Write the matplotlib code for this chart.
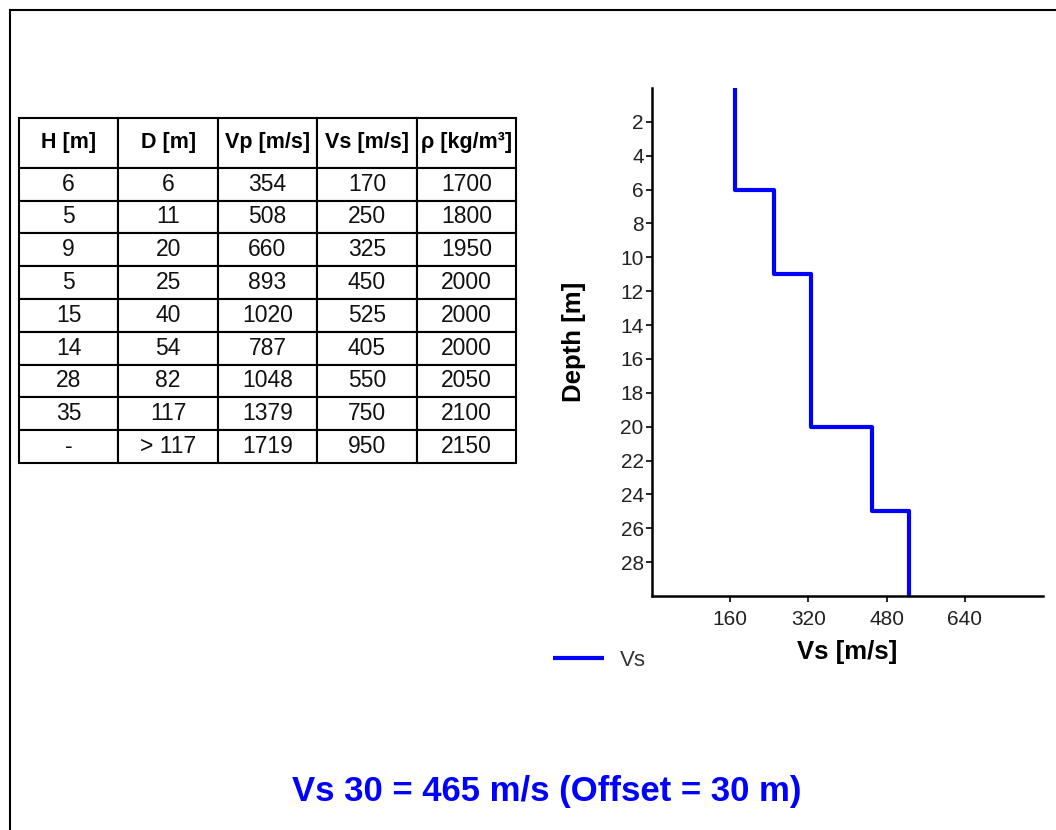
import matplotlib.pyplot as plt
import numpy as np
from matplotlib.lines import Line2D

plt.rcParams['font.family'] = ['Liberation Sans', 'DejaVu Sans']

# table data
col_labels = ['H [m]', 'D [m]', 'Vp [m/s]', 'Vs [m/s]', 'ρ [kg/m³]']
thickness = ['6', '5', '9', '5', '15', '14', '28', '35', '-']
depth = ['6', '11', '20', '25', '40', '54', '82', '117', '> 117']
vp = ['354', '508', '660', '893', '1020', '787', '1048', '1379', '1719']
vs = ['170', '250', '325', '450', '525', '405', '550', '750', '950']
rho = ['1700', '1800', '1950', '2000', '2000', '2000', '2050', '2100', '2150']

# Vs profile down to 30 m
depth_edges = [0, 6, 11, 20, 25, 30]
vs_layers = [170, 250, 325, 450, 525]

fig = plt.figure(figsize=(10.56, 8.3), dpi=100)
W, H = 1056, 830

# outer frame (left and top edges)
fig.add_artist(Line2D([10/W, 10/W], [0, 1 - 10/H], color='black', lw=1.5))
fig.add_artist(Line2D([10/W, 1], [1 - 10/H, 1 - 10/H], color='black', lw=1.5))

# table
tax = fig.add_axes([19/W, 1 - 463/H, 497/W, 345/H])
tax.axis('off')
cells = list(zip(thickness, depth, vp, vs, rho))
tbl = tax.table(cellText=cells, colLabels=col_labels, cellLoc='center',
                bbox=[0, 0, 1, 1])
tbl.auto_set_font_size(False)
for (r, c), cell in tbl.get_celld().items():
    cell.set_linewidth(1.5)
    cell.set_edgecolor('black')
    cell.set_height(50 if r == 0 else 33)
    if r == 0:
        cell.get_text().set_fontsize(15.5)
        cell.get_text().set_fontweight('bold')
    else:
        cell.get_text().set_fontsize(16.5)
        cell.get_text().set_color('#111111')

# Vs profile
ax = fig.add_axes([652/W, 1 - 596/H, 391/W, 508/H])
x = np.repeat(vs_layers, 2)
y = np.repeat(depth_edges, 2)[1:-1]
ax.plot(x, y, color='#0000ff', lw=3, label='Vs', solid_capstyle='butt')
ax.set_xlim(0, 800)
ax.set_ylim(30, 0)
ax.set_xticks([160, 320, 480, 640])
ax.set_yticks(np.arange(2, 30, 2))
for s in ['top', 'right']:
    ax.spines[s].set_visible(False)
for s in ['left', 'bottom']:
    ax.spines[s].set_linewidth(1.8)
ax.tick_params(axis='both', length=4, width=1.2, labelsize=15, colors='black',
               labelcolor='#222222')
ax.tick_params(axis='x', pad=6)
ax.tick_params(axis='y', pad=2)
ax.set_xlabel('Vs [m/s]', fontsize=18.5, fontweight='bold', labelpad=8)
ax.set_ylabel('Depth [m]', fontsize=18.5, fontweight='bold', labelpad=25)

fig.legend(loc='center left', bbox_to_anchor=(553/W, 1 - 660/H), frameon=False,
           fontsize=16, handlelength=2.3, handletextpad=0.7, borderpad=0,
           borderaxespad=0, labelcolor='#333333')

fig.text(547/W, 1 - 791/H, 'Vs 30 = 465 m/s (Offset = 30 m)', color='#0000ff',
         fontsize=25, fontweight='bold', ha='center', va='center')

fig.savefig('out.png', dpi=100)
